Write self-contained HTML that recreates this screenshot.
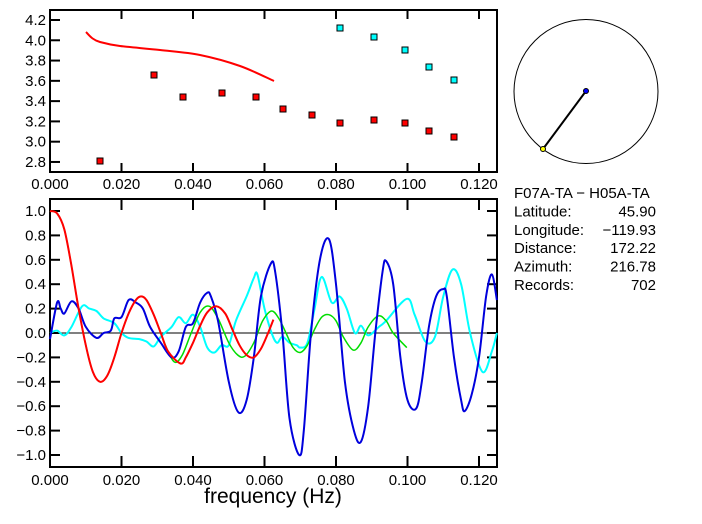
<!DOCTYPE html>
<html><head><meta charset="utf-8"><style>
body{margin:0;background:#fff;width:702px;height:519px;overflow:hidden}
text{font-family:"Liberation Sans",sans-serif;font-size:15px;fill:#000}
</style></head><body>
<svg id="s" width="702" height="519" xmlns="http://www.w3.org/2000/svg">
<g id="g"></g>
</svg>
<script>
const NS="http://www.w3.org/2000/svg",G=document.getElementById('g');
function el(t,a,txt){const e=document.createElementNS(NS,t);for(const k in a)e.setAttribute(k,a[k]);if(txt!=null)e.textContent=txt;G.appendChild(e);return e;}
const X=f=>50+f*3575, Y=v=>333-v*122;
function path(pts,color,w){
  let d="M"+pts[0][0]+","+pts[0][1];
  for(let i=0;i<pts.length-1;i++){const p0=pts[i-1]||pts[i],p1=pts[i],p2=pts[i+1],p3=pts[i+2]||p2;
   const c1=[p1[0]+(p2[0]-p0[0])/6,p1[1]+(p2[1]-p0[1])/6],c2=[p2[0]-(p3[0]-p1[0])/6,p2[1]-(p3[1]-p1[1])/6];
   d+=` C${c1[0].toFixed(1)},${c1[1].toFixed(1)} ${c2[0].toFixed(1)},${c2[1].toFixed(1)} ${p2[0].toFixed(1)},${p2[1].toFixed(1)}`;}
  el('path',{d:d,fill:'none',stroke:color,'stroke-width':w});
}
const fv=a=>a.map(p=>[X(p[0]),Y(p[1])]);
el('rect',{x:50,y:10,width:447,height:162,fill:'none',stroke:'#000','stroke-width':2});
const xt=[0,0.02,0.04,0.06,0.08,0.10,0.12];
xt.forEach(f=>{const x=X(f);el('line',{x1:x,y1:10,x2:x,y2:19,stroke:'#000','stroke-width':2});el('line',{x1:x,y1:172,x2:x,y2:163,stroke:'#000','stroke-width':2});el('text',{x:x,y:189,'text-anchor':'middle'},f.toFixed(3));});
const Yt=v=>20+(4.2-v)*101.4;
for(let v=2.8;v<4.25;v+=0.2){const y=Yt(v);el('line',{x1:50,y1:y,x2:60,y2:y,stroke:'#000','stroke-width':2});el('text',{x:46,y:y+5,'text-anchor':'end'},v.toFixed(1));}
path([[86,32],[92,38],[100,42],[120,46],[160,50],[200,55],[240,66],[274,81]],'#f00',2);
[[100,161],[154,75],[183,97],[222,93],[256,97],[283,109],[312,115],[340,123],[374,120],[405,123],[429,131],[454,137]].forEach(p=>el('rect',{x:p[0]-3,y:p[1]-3,width:6,height:6,fill:'#f00',stroke:'#000','stroke-width':1}));
[[340,28],[374,37],[405,50],[429,67],[454,80]].forEach(p=>el('rect',{x:p[0]-3,y:p[1]-3,width:6,height:6,fill:'#0ff',stroke:'#000','stroke-width':1}));
el('rect',{x:50,y:199,width:447,height:268,fill:'none',stroke:'#000','stroke-width':2});
xt.forEach(f=>{const x=X(f);el('line',{x1:x,y1:199,x2:x,y2:210,stroke:'#000','stroke-width':2});el('line',{x1:x,y1:467,x2:x,y2:456,stroke:'#000','stroke-width':2});el('text',{x:x,y:485,'text-anchor':'middle'},f.toFixed(3));});
for(let i=-5;i<=5;i++){const v=i*0.2,y=Y(v);el('line',{x1:50,y1:y,x2:60,y2:y,stroke:'#000','stroke-width':2});el('line',{x1:497,y1:y,x2:487,y2:y,stroke:'#000','stroke-width':2});el('text',{x:46,y:y+5,'text-anchor':'end'},(v<0?'\u2212':'')+Math.abs(v).toFixed(1));}
el('line',{x1:50,y1:Y(0),x2:497,y2:Y(0),stroke:'#000','stroke-width':1});
el('text',{x:273,y:503,'text-anchor':'middle',style:'font-size:21px'},'frequency (Hz)');
const common=[[0,1],[0.002,0.98],[0.004,0.85],[0.006,0.55],[0.008,0.2],[0.010,-0.1],[0.012,-0.32],[0.014,-0.4],[0.016,-0.35],[0.018,-0.2],[0.020,0.0],[0.022,0.16],[0.024,0.27],[0.0255,0.3],[0.027,0.27],[0.029,0.15],[0.031,0.0],[0.033,-0.15]];
const cyan=[[0,0.0],[0.002,0.02],[0.004,-0.02],[0.006,0.05],[0.009,0.22],[0.011,0.2],[0.013,0.18],[0.015,0.12],[0.018,0.08],[0.020,0.0],[0.022,-0.04],[0.025,-0.05],[0.027,-0.07],[0.029,-0.11],[0.031,-0.03],[0.034,0.05],[0.036,0.13],[0.038,0.08],[0.040,0.15],[0.042,0.05],[0.044,-0.12],[0.046,-0.16],[0.048,-0.1],[0.050,-0.1],[0.052,0.1],[0.055,0.3],[0.057,0.45],[0.058,0.48],[0.060,0.2],[0.062,0.0],[0.0635,-0.08],[0.065,-0.03],[0.067,-0.08],[0.069,-0.1],[0.070,-0.12],[0.072,-0.08],[0.074,0.2],[0.076,0.46],[0.0788,0.25],[0.081,0.3],[0.083,0.2],[0.0853,0.0],[0.087,0.06],[0.089,-0.02],[0.092,0.05],[0.094,0.1],[0.0998,0.28],[0.102,0.15],[0.105,-0.07],[0.1077,-0.03],[0.110,0.3],[0.1126,0.52],[0.115,0.4],[0.1175,0.0],[0.121,-0.32],[0.1236,-0.15],[0.125,0.0]];
path(fv(cyan),'#0ff',2);
const green=common.concat([[0.035,-0.24],[0.037,-0.18],[0.0395,0.0],[0.042,0.17],[0.0445,0.22],[0.047,0.12],[0.050,-0.08],[0.0525,-0.18],[0.0545,-0.19],[0.057,-0.08],[0.0595,0.1],[0.062,0.18],[0.064,0.12],[0.066,0.0],[0.068,-0.12],[0.070,-0.16],[0.072,-0.1],[0.074,0.03],[0.076,0.13],[0.078,0.15],[0.080,0.1],[0.082,-0.03],[0.0848,-0.14],[0.087,-0.08],[0.089,0.05],[0.0918,0.14],[0.094,0.1],[0.096,0.0],[0.0998,-0.12]]);
path(fv(green),'#0d0',1.5);
const blue=[[0,-0.05],[0.002,0.25],[0.003,0.2],[0.004,0.16],[0.006,0.26],[0.008,0.2],[0.010,0.05],[0.013,-0.04],[0.015,0.0],[0.017,0.02],[0.018,0.12],[0.020,0.13],[0.022,0.27],[0.024,0.25],[0.026,0.2],[0.028,0.05],[0.031,-0.08],[0.034,-0.2],[0.036,-0.15],[0.038,0.05],[0.040,0.08],[0.042,0.25],[0.044,0.33],[0.045,0.3],[0.047,0.1],[0.050,-0.4],[0.0527,-0.65],[0.055,-0.55],[0.057,-0.2],[0.059,0.3],[0.0618,0.57],[0.063,0.5],[0.065,0.0],[0.067,-0.7],[0.0697,-1.0],[0.071,-0.8],[0.073,0.0],[0.0755,0.6],[0.078,0.77],[0.080,0.4],[0.0825,-0.4],[0.085,-0.8],[0.087,-0.89],[0.089,-0.6],[0.091,0.0],[0.093,0.5],[0.094,0.59],[0.096,0.4],[0.098,-0.2],[0.100,-0.55],[0.1024,-0.62],[0.104,-0.4],[0.106,0.05],[0.108,0.3],[0.110,0.36],[0.111,0.3],[0.113,-0.2],[0.115,-0.55],[0.116,-0.64],[0.118,-0.5],[0.120,-0.2],[0.122,0.3],[0.1236,0.48],[0.125,0.27]];
path(fv(blue),'#00d',2);
const red=common.concat([[0.0365,-0.25],[0.038,-0.2],[0.040,-0.08],[0.042,0.06],[0.044,0.17],[0.0465,0.22],[0.049,0.16],[0.051,0.03],[0.053,-0.1],[0.055,-0.18],[0.057,-0.2],[0.059,-0.13],[0.061,0.0],[0.0625,0.11]]);
path(fv(red),'#f00',2);
el('circle',{cx:586,cy:91.5,r:72,fill:'none',stroke:'#000','stroke-width':1});
el('line',{x1:586,y1:91,x2:543,y2:149,stroke:'#000','stroke-width':2});
el('circle',{cx:586,cy:91,r:2.5,fill:'#00f',stroke:'#000','stroke-width':1});
el('circle',{cx:543,cy:149,r:2.5,fill:'#ff0',stroke:'#000','stroke-width':1});
const L=[["F07A-TA  \u2212  H05A-TA",""],["Latitude:","45.90"],["Longitude:","\u2212119.93"],["Distance:","172.22"],["Azimuth:","216.78"],["Records:","702"]];
L.forEach((r,i)=>{const y=198+i*18.4;el('text',{x:514,y:y,'xml:space':'preserve'},r[0]);if(r[1])el('text',{x:656,y:y,'text-anchor':'end'},r[1]);});
</script>
</body></html>
